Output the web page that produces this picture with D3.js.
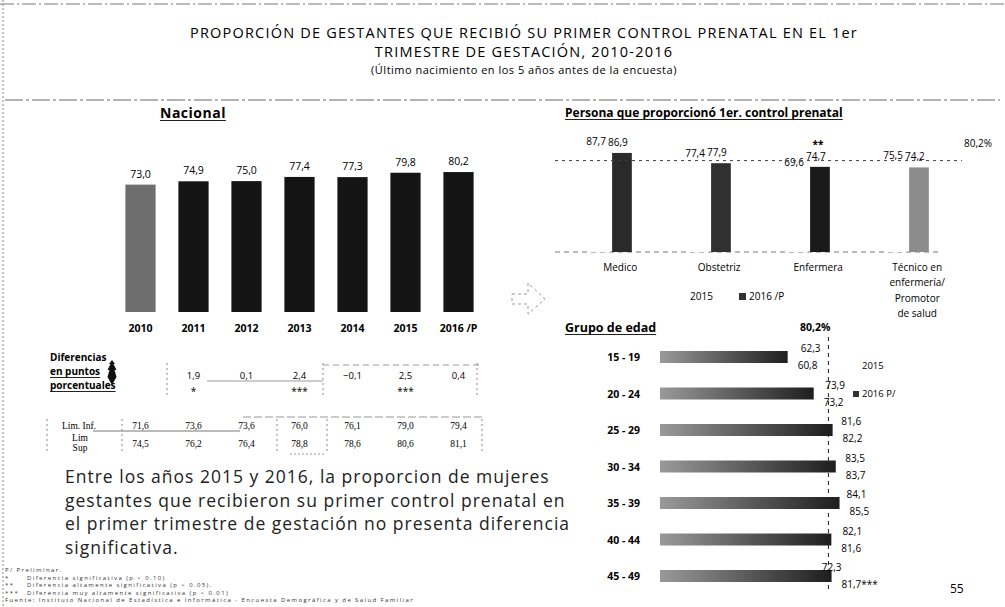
<!DOCTYPE html>
<html>
<head>
<meta charset="utf-8">
<script src="https://cdn.jsdelivr.net/npm/d3@7/dist/d3.min.js"></script>
<style>
body{margin:0;background:#fff;}
svg{display:block;font-family:"Open Sans",sans-serif;color:#111;}
</style>
</head>
<body>
<div id="graph"></div>
<script>
// datos nacionales
var years=["2010","2011","2012","2013","2014","2015","2016 /P"];
var nacional=[73.0,74.9,75.0,77.4,77.3,79.8,80.2];
var difValues=[1.9,0.1,2.4,-0.1,2.5,0.4];
var difSig=["*","","***","","***",""];
var limInf=[71.6,73.6,73.6,76.0,76.1,79.0,79.4];
var limSup=[74.5,76.2,76.4,78.8,78.6,80.6,81.1];

// persona que proporciono el control
var personas=["Medico","Obstetriz","Enfermera","Técnico en|enfermería/|Promotor|de salud"];
var persona2015=[87.7,77.4,69.6,75.5];
var persona2016=[86.9,77.9,74.7,74.2];
var personaSig=["","","**",""];

// grupo de edad
var edades=["15 - 19","20 - 24","25 - 29","30 - 34","35 - 39","40 - 44","45 - 49"];
var edad2015=[62.3,73.9,81.6,83.5,84.1,82.1,72.3];
var edad2016=[60.8,73.2,82.2,83.7,85.5,81.6,81.7];
var edadSig=["","","","","","","***"];
var promedio=80.2;

var width=1005, height=607;
var fmt=function(v){return d3.format(".1f")(v).replace(".",",");};

var svg=d3.select("#graph").append("svg").attr("width",width).attr("height",height);

// texto subrayado
var underlined=function(x,y,txt,size,ls){
	var t=svg.append("text").attr("x",x).attr("y",y).attr("font-size",size).attr("font-weight","bold")
		.attr("letter-spacing",ls||0).text(txt);
	var w=t.node().getComputedTextLength();
	svg.append("line").attr("x1",x).attr("x2",x+w).attr("y1",y+2.5).attr("y2",y+2.5).attr("stroke","#222").attr("stroke-width",1);
	return t;
};

// marco
svg.append("line").attr("x1",0).attr("x2",width).attr("y1",4).attr("y2",4).attr("stroke","#777").attr("stroke-dasharray","14,3,2,3");
svg.append("line").attr("x1",3).attr("x2",3).attr("y1",0).attr("y2",height).attr("stroke","#888").attr("stroke-dasharray","2,2");
svg.append("line").attr("x1",5).attr("x2",1000).attr("y1",100).attr("y2",100).attr("stroke","#666").attr("stroke-dasharray","18,3,3,3");

// titulo
svg.append("text").attr("x",524).attr("y",38).attr("text-anchor","middle").attr("font-size",14.5).attr("letter-spacing",1.2)
	.text("PROPORCIÓN DE GESTANTES QUE RECIBIÓ SU PRIMER CONTROL PRENATAL EN EL 1er");
svg.append("text").attr("x",524).attr("y",57).attr("text-anchor","middle").attr("font-size",14.5).attr("letter-spacing",1.2)
	.text("TRIMESTRE DE GESTACIÓN, 2010-2016");
svg.append("text").attr("x",524).attr("y",74).attr("text-anchor","middle").attr("font-size",11).attr("letter-spacing",0.5)
	.text("(Último nacimiento en los 5 años antes de la encuesta)");

// ---------- Nacional ----------
underlined(160,118,"Nacional",14,0.5);

var xNac=d3.scaleBand().domain(years).range([114,485]).paddingInner(0.43).paddingOuter(0.215);
var yNac=d3.scaleLinear().domain([0,100]).range([312,137.5]);

var gNac=svg.append("g");
gNac.selectAll("rect").data(nacional).enter().append("rect")
	.attr("x",function(d,i){return xNac(years[i]);})
	.attr("y",function(d){return yNac(d);})
	.attr("width",xNac.bandwidth())
	.attr("height",function(d){return yNac(0)-yNac(d);})
	.attr("fill",function(d,i){return i==0?"#6e6e6e":"#141414";});
gNac.selectAll(".val").data(nacional).enter().append("text").attr("class","val")
	.attr("x",function(d,i){return xNac(years[i])+xNac.bandwidth()/2;})
	.attr("y",function(d){return yNac(d)-7;})
	.attr("text-anchor","middle").attr("font-size",10.5)
	.text(function(d){return fmt(d);});
gNac.selectAll(".yr").data(years).enter().append("text").attr("class","yr")
	.attr("x",function(d){return xNac(d)+xNac.bandwidth()/2;})
	.attr("y",332).attr("text-anchor","middle").attr("font-size",10.5).attr("font-weight","bold")
	.text(function(d){return d;});

// diferencias
svg.append("text").attr("x",50).attr("y",361).attr("font-size",10).attr("font-weight","bold").text("Diferencias");
underlined(50,375,"en puntos",10);
underlined(50,389,"porcentuales",10);
svg.append("path").attr("d","M112,360 l3,4 l-1.5,0 l3,6 l-2,0 l2,7 l-4.5,8 l-4.5,-8 l2,-7 l-2,0 l3,-6 l-1.5,0 z").attr("fill","#111");

var gDif=svg.append("g");
gDif.selectAll(".dif").data(difValues).enter().append("text").attr("class","dif")
	.attr("x",function(d,i){return xNac(years[i+1])+xNac.bandwidth()/2;})
	.attr("y",379).attr("text-anchor","middle").attr("font-size",9.5)
	.text(function(d){return fmt(d);});
gDif.selectAll(".sig").data(difSig).enter().append("text").attr("class","sig")
	.attr("x",function(d,i){return xNac(years[i+1])+xNac.bandwidth()/2;})
	.attr("y",395).attr("text-anchor","middle").attr("font-size",10)
	.text(function(d){return d;});
[167,323,477].forEach(function(x){
	svg.append("line").attr("x1",x).attr("x2",x).attr("y1",363).attr("y2",398).attr("stroke","#888").attr("stroke-dasharray","2,3");
});
svg.append("line").attr("x1",207).attr("x2",323).attr("y1",381).attr("y2",381).attr("stroke","#999");
svg.append("line").attr("x1",323).attr("x2",483).attr("y1",365).attr("y2",365).attr("stroke","#999").attr("stroke-dasharray","6,4");

// limites
var gLim=svg.append("g").attr("font-family","'Liberation Serif',serif");
gLim.append("text").attr("x",62).attr("y",429).attr("font-size",9.5).text("Lim. Inf.");
gLim.append("text").attr("x",80).attr("y",441).attr("text-anchor","middle").attr("font-size",9.5).text("Lim");
gLim.append("text").attr("x",80).attr("y",451).attr("text-anchor","middle").attr("font-size",9.5).text("Sup");
gLim.selectAll(".inf").data(limInf).enter().append("text").attr("class","inf")
	.attr("x",function(d,i){return xNac(years[i])+xNac.bandwidth()/2;})
	.attr("y",429).attr("text-anchor","middle").attr("font-size",9.5)
	.text(function(d){return fmt(d);});
gLim.selectAll(".sup").data(limSup).enter().append("text").attr("class","sup")
	.attr("x",function(d,i){return xNac(years[i])+xNac.bandwidth()/2;})
	.attr("y",447).attr("text-anchor","middle").attr("font-size",9.5)
	.text(function(d){return fmt(d);});
svg.append("line").attr("x1",93).attr("x2",240).attr("y1",431).attr("y2",431).attr("stroke","#777");
svg.append("line").attr("x1",243).attr("x2",483).attr("y1",417).attr("y2",417).attr("stroke","#999").attr("stroke-dasharray","8,3");
[47,122,277,327,482].forEach(function(x){
	svg.append("line").attr("x1",x).attr("x2",x).attr("y1",419).attr("y2",453).attr("stroke","#888").attr("stroke-dasharray","2,3");
});
svg.append("line").attr("x1",290).attr("x2",325).attr("y1",454).attr("y2",454).attr("stroke","#999").attr("stroke-dasharray","2,2");

// parrafo
var parrafo=["Entre los años 2015 y 2016, la proporcion de mujeres",
	"gestantes que recibieron su primer control prenatal en",
	"el primer trimestre de gestación no presenta diferencia",
	"significativa."];
svg.selectAll(".par").data(parrafo).enter().append("text").attr("class","par")
	.attr("x",65).attr("y",function(d,i){return 483+i*23.5;})
	.attr("font-size",17.5).attr("letter-spacing",1).attr("fill","#222")
	.text(function(d){return d;});

// notas
var notas=[["P/ Preliminar.",""],["*","Diferencia significativa (p < 0.10)"],["**","Diferencia altamente significativa (p < 0.05)."],
	["***","Diferencia muy altamente significativa (p < 0.01)"],["Fuente: Instituto Nacional de Estadística e Informática - Encuesta Demográfica y de Salud Familiar",""]];
var gNot=svg.append("g").attr("font-size",6).attr("letter-spacing",1.4).attr("fill","#333");
notas.forEach(function(n,i){
	gNot.append("text").attr("x",5).attr("y",572+i*7.5).text(n[0]);
	if(n[1]) gNot.append("text").attr("x",27).attr("y",572+i*7.5).text(n[1]);
});

// flecha
svg.append("path").attr("d","M512,294 L528,294 L528,283 L545,299 L528,314 L528,304 L512,304 Z")
	.attr("fill","none").attr("stroke","#999").attr("stroke-dasharray","3,3");

// ---------- Persona ----------
underlined(565,117,"Persona que proporcionó 1er. control prenatal",12);

var xPer=d3.scaleBand().domain(personas).range([561.5,957.5]).paddingInner(0.535).paddingOuter(0.2675);
var xSub=d3.scaleBand().domain(["2015","2016"]).range([0,xPer.bandwidth()]).padding(0.1);
var yPer=d3.scaleLinear().domain([0,100]).range([252,138]);
var perFill=["#2a2a2a","#303030","#1a1a1a","#8c8c8c"];

var perData=personas.map(function(p,i){return {cat:p,v15:persona2015[i],v16:persona2016[i],sig:personaSig[i],i:i};});
var gPer=svg.append("g");
gPer.append("line").attr("x1",555).attr("x2",940).attr("y1",yPer(0)).attr("y2",yPer(0)).attr("stroke","#777").attr("stroke-dasharray","5,4");
var grp=gPer.selectAll(".grp").data(perData).enter().append("g").attr("class","grp")
	.attr("transform",function(d){return "translate("+xPer(d.cat)+",0)";});
grp.append("rect").attr("x",xSub("2015")).attr("width",xSub.bandwidth())
	.attr("y",function(d){return yPer(d.v15);}).attr("height",function(d){return yPer(0)-yPer(d.v15);})
	.attr("fill","#fff");
grp.append("rect").attr("x",xSub("2016")).attr("width",xSub.bandwidth())
	.attr("y",function(d){return yPer(d.v16);}).attr("height",function(d){return yPer(0)-yPer(d.v16);})
	.attr("fill",function(d){return perFill[d.i];});
grp.append("text").attr("x",xSub("2015")+xSub.bandwidth()/2-4).attr("y",function(d){return yPer(d.v15)-7;})
	.attr("text-anchor","middle").attr("font-size",10).text(function(d){return fmt(d.v15);});
grp.append("text").attr("x",xSub("2016")+xSub.bandwidth()/2-4).attr("y",function(d){return yPer(d.v16)-7;})
	.attr("text-anchor","middle").attr("font-size",10).text(function(d){return fmt(d.v16);});
grp.append("text").attr("x",xSub("2016")+xSub.bandwidth()/2-2).attr("y",function(d){return yPer(d.v16)-19;})
	.attr("text-anchor","middle").attr("font-size",10).attr("font-weight","bold").text(function(d){return d.sig;});
grp.append("text").attr("x",xPer.bandwidth()*0.7).attr("y",271).attr("text-anchor","middle").attr("font-size",10)
	.selectAll("tspan").data(function(d){return d.cat.split("|");}).enter().append("tspan")
	.attr("x",xPer.bandwidth()*0.7).attr("dy",function(d,i){return i==0?0:15.3;}).text(function(d){return d;});

gPer.append("line").attr("x1",555).attr("x2",962).attr("y1",yPer(promedio)).attr("y2",yPer(promedio))
	.attr("stroke","#444").attr("stroke-dasharray","3,4");
gPer.append("text").attr("x",964).attr("y",yPer(promedio)-14).attr("font-size",10).text(fmt(promedio)+"%");

// leyenda superior
svg.append("text").attr("x",690).attr("y",300).attr("font-size",10).text("2015");
svg.append("rect").attr("x",739).attr("y",293).attr("width",7).attr("height",7).attr("fill","#333");
svg.append("text").attr("x",749).attr("y",300).attr("font-size",10).text("2016 /P");

// ---------- Grupo de edad ----------
underlined(565,332,"Grupo de edad",12.5);

var xAge=d3.scaleLinear().domain([0,100]).range([660,870]);
var yAge=d3.scaleBand().domain(edades).range([338.75,594.25]);
var defs=svg.append("defs");
var grad=defs.append("linearGradient").attr("id","gradEdad").attr("x1","0").attr("x2","1").attr("y1","0").attr("y2","0");
grad.append("stop").attr("offset","0%").attr("stop-color","#9a9a9a");
grad.append("stop").attr("offset","55%").attr("stop-color","#555");
grad.append("stop").attr("offset","100%").attr("stop-color","#1e1e1e");

var edadData=edades.map(function(e,i){return {cat:e,v15:edad2015[i],v16:edad2016[i],sig:edadSig[i]};});
var gAge=svg.append("g");
var fila=gAge.selectAll(".fila").data(edadData).enter().append("g").attr("class","fila")
	.attr("transform",function(d){return "translate(0,"+(yAge(d.cat)+yAge.bandwidth()/2)+")";});
fila.append("rect").attr("x",xAge(0)).attr("y",-18).attr("height",11)
	.attr("width",function(d){return xAge(d.v15)-xAge(0);}).attr("fill","#fff");
fila.append("rect").attr("x",xAge(0)).attr("y",-6).attr("height",12)
	.attr("width",function(d){return xAge(d.v16)-xAge(0);}).attr("fill","url(#gradEdad)");
fila.append("text").attr("x",640).attr("y",4).attr("text-anchor","end").attr("font-size",10.5).attr("font-weight","bold")
	.text(function(d){return d.cat;});
fila.append("text").attr("x",function(d){return xAge(d.v15)+10;}).attr("y",-5).attr("font-size",10)
	.text(function(d){return fmt(d.v15);});
fila.append("text").attr("x",function(d){return xAge(d.v16)+10;}).attr("y",12).attr("font-size",10)
	.text(function(d){return fmt(d.v16)+d.sig;});

gAge.append("line").attr("x1",xAge(promedio)).attr("x2",xAge(promedio)).attr("y1",337).attr("y2",590)
	.attr("stroke","#222").attr("stroke-dasharray","4,4");
gAge.append("text").attr("x",800).attr("y",331).attr("font-size",10.5).attr("font-weight","bold").text(fmt(promedio)+"%");

// leyenda inferior
svg.append("text").attr("x",862).attr("y",369).attr("font-size",9.5).text("2015");
svg.append("rect").attr("x",853).attr("y",391).attr("width",6).attr("height",6).attr("fill","#333");
svg.append("text").attr("x",862).attr("y",397).attr("font-size",9.5).text("2016 P/");

svg.append("text").attr("x",950).attr("y",593).attr("font-size",12).text("55");
</script>
</body>
</html>
